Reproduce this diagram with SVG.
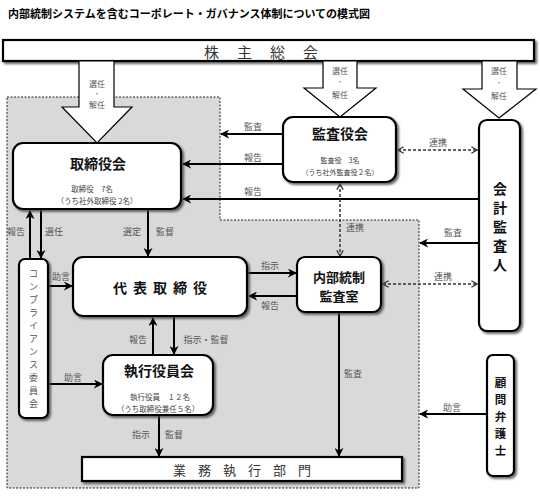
<svg xmlns="http://www.w3.org/2000/svg" width="540" height="496" viewBox="0 0 540 496">
<style>
text{font-family:"Noto Sans CJK JP","Noto Sans",sans-serif;dominant-baseline:central;text-anchor:middle}
.title{font-size:11px;font-weight:bold;text-anchor:start}
.lbl{font-size:9px;fill:#555}
.al{font-size:8px;fill:#555}
.dot{font-size:6px;fill:#555}
.big{font-size:14px;font-weight:bold;fill:#111}
.small{font-size:7.5px;fill:#444}
.bar{font-size:14px;fill:#333}
.box{fill:#fff;stroke:#000;stroke-width:2.2;filter:url(#sh)}
.ln{stroke:#000;stroke-width:2;fill:none}
.arr{marker-end:url(#ah)}
.dash{stroke:#333;stroke-width:1.5;stroke-dasharray:3 2;fill:none;marker-start:url(#oh);marker-end:url(#oh)}
.hollow{fill:#fff;stroke:#000;stroke-width:1.2}
</style>
<defs>
<filter id="sh" x="-10%" y="-10%" width="130%" height="130%">
<feDropShadow dx="2" dy="2" stdDeviation="1.2" flood-color="#444" flood-opacity="0.8"/>
</filter>
<marker id="ah" viewBox="0 0 10 10" refX="9" refY="5" markerWidth="9" markerHeight="9" markerUnits="userSpaceOnUse" orient="auto">
<path d="M0,0 L10,5 L0,10 L3,5 z" fill="#000"/>
</marker>
<marker id="oh" viewBox="0 0 10 10" refX="9" refY="5" markerWidth="8" markerHeight="8" markerUnits="userSpaceOnUse" orient="auto-start-reverse">
<path d="M2,1 L9,5 L2,9" fill="none" stroke="#333" stroke-width="1.6"/>
</marker>
</defs>
<rect width="540" height="496" fill="#fff"/>
<text class="title" x="8" y="13">内部統制システムを含むコーポレート・ガバナンス体制についての模式図</text>

<g id="region">
<path d="M7,97 H220 V220 H419 V488 H7 Z" fill="#d9d9d9" stroke="#222" stroke-width="1" stroke-dasharray="2 1.5"/>
</g>

<g id="shareholders">
<rect x="3" y="40" width="531" height="21" class="box"/>
<text class="bar" x="270" y="51" letter-spacing="18" style="font-size:15px">株主総会</text>
</g>

<g id="bigarrows">
<path class="hollow" d="M79,61 H114 V107 H132 L97,143 L62,107 H79 Z"/>
<text class="al" x="97" y="83">選任</text>
<text class="dot" x="97" y="93.5">・</text>
<text class="al" x="97" y="104">解任</text>
<path class="hollow" d="M323,61 H357 V88 H376 L340,117 L304,88 H323 Z"/>
<text class="al" x="340" y="70">選任</text>
<text class="dot" x="340" y="81.5">・</text>
<text class="al" x="340" y="94">解任</text>
<path class="hollow" d="M482,61 H517 V89 H536 L499,118 L463,89 H482 Z"/>
<text class="al" x="499" y="70">選任</text>
<text class="dot" x="499" y="82">・</text>
<text class="al" x="499" y="95">解任</text>
</g>

<g id="connectors">
<line class="ln arr" x1="283" y1="134" x2="221" y2="134"/>
<text class="lbl" x="253" y="126">監査</text>
<line class="ln arr" x1="283" y1="164" x2="183" y2="164"/>
<text class="lbl" x="253" y="157">報告</text>
<line class="ln arr" x1="479" y1="199" x2="183" y2="199"/>
<text class="lbl" x="253" y="191">報告</text>
<line class="dash" x1="398" y1="150" x2="477" y2="150"/>
<text class="lbl" x="438" y="142">連携</text>
<line class="dash" x1="340" y1="184" x2="340" y2="256"/>
<text class="lbl" x="355" y="227">連携</text>
<line class="ln arr" x1="479" y1="243" x2="420" y2="243"/>
<text class="lbl" x="453" y="232">監査</text>
<line class="dash" x1="383" y1="284" x2="477" y2="284"/>
<text class="lbl" x="443" y="276">連携</text>
<line class="ln arr" x1="30" y1="259" x2="30" y2="211"/>
<text class="lbl" x="16" y="231">報告</text>
<line class="ln arr" x1="41" y1="210" x2="41" y2="258"/>
<text class="lbl" x="54" y="231">選任</text>
<line class="ln arr" x1="148" y1="210" x2="148" y2="256"/>
<text class="lbl" x="132" y="231">選定</text>
<text class="lbl" x="165" y="231">監督</text>
<line class="ln arr" x1="49" y1="286" x2="72" y2="286"/>
<text class="lbl" x="61" y="276">助言</text>
<line class="ln arr" x1="248" y1="273" x2="296" y2="273"/>
<text class="lbl" x="270" y="265">指示</text>
<line class="ln arr" x1="297" y1="296" x2="249" y2="296"/>
<text class="lbl" x="270" y="305">報告</text>
<line class="ln arr" x1="153" y1="355" x2="153" y2="318"/>
<text class="lbl" x="138" y="339">報告</text>
<line class="ln arr" x1="174" y1="317" x2="174" y2="354"/>
<text class="lbl" x="206" y="339">指示・監督</text>
<line class="ln arr" x1="49" y1="384" x2="102" y2="384"/>
<text class="lbl" x="73" y="377">助言</text>
<line class="ln arr" x1="159" y1="416" x2="159" y2="456"/>
<text class="lbl" x="141" y="434">指示</text>
<text class="lbl" x="174" y="434">監督</text>
<line class="ln arr" x1="339" y1="313" x2="339" y2="456"/>
<text class="lbl" x="353" y="373">監査</text>
<line class="ln arr" x1="487" y1="414" x2="420" y2="414"/>
<text class="lbl" x="452" y="407">助言</text>
</g>

<g id="board">
<rect x="13" y="143" width="168" height="66" rx="10" class="box"/>
<text class="big" x="98" y="163">取締役会</text>
<text class="small" x="92" y="188">取締役　7名</text>
<text class="small" x="97" y="200">（うち社外取締役 2名）</text>
</g>

<g id="auditors">
<rect x="283" y="117" width="113" height="65" rx="10" class="box"/>
<text class="big" x="340" y="133">監査役会</text>
<text class="small" x="340" y="160" style="font-size:7px">監査役　3名</text>
<text class="small" x="340" y="171.5" style="font-size:7px">（うち社外監査役２名）</text>
</g>

<g id="accounting-auditor">
<rect x="479" y="120" width="41" height="211" rx="8" class="box"/>
<text class="big" x="500" y="188">会</text>
<text class="big" x="500" y="207">計</text>
<text class="big" x="500" y="226">監</text>
<text class="big" x="500" y="245">査</text>
<text class="big" x="500" y="264">人</text>
</g>

<g id="representative">
<rect x="73" y="257" width="174" height="59" rx="10" class="box"/>
<text class="big" x="163" y="287" letter-spacing="6">代表取締役</text>
</g>

<g id="internal-audit">
<rect x="297" y="257" width="84" height="55" rx="8" class="box"/>
<text class="big" x="339" y="276" style="font-size:13px">内部統制</text>
<text class="big" x="339" y="295" style="font-size:13px">監査室</text>
</g>

<g id="compliance">
<rect x="19" y="259" width="29" height="159" rx="6" class="box"/>
<text class="lbl" x="33.5" y="273">コ</text>
<text class="lbl" x="33.5" y="286">ン</text>
<text class="lbl" x="33.5" y="299">プ</text>
<text class="lbl" x="33.5" y="312">ラ</text>
<text class="lbl" x="33.5" y="325">イ</text>
<text class="lbl" x="33.5" y="338">ア</text>
<text class="lbl" x="33.5" y="351">ン</text>
<text class="lbl" x="33.5" y="364">ス</text>
<text class="lbl" x="33.5" y="377">委</text>
<text class="lbl" x="33.5" y="390">員</text>
<text class="lbl" x="33.5" y="403">会</text>
</g>

<g id="executive">
<rect x="103" y="355" width="110" height="60" rx="10" class="box"/>
<text class="big" x="159" y="370">執行役員会</text>
<text class="small" x="160" y="396">執行役員　１２名</text>
<text class="small" x="158" y="408">（うち取締役兼任５名）</text>
</g>

<g id="counsel">
<rect x="487" y="355" width="27" height="121" rx="6" class="box"/>
<text class="big" x="500.5" y="382" style="font-size:11.5px">顧</text>
<text class="big" x="500.5" y="399" style="font-size:11.5px">問</text>
<text class="big" x="500.5" y="416" style="font-size:11.5px">弁</text>
<text class="big" x="500.5" y="433" style="font-size:11.5px">護</text>
<text class="big" x="500.5" y="450" style="font-size:11.5px">士</text>
</g>

<g id="operations">
<rect x="82" y="457" width="320" height="24" class="box"/>
<text class="bar" x="248" y="469" letter-spacing="12" style="font-size:13px">業務執行部門</text>
</g>
</svg>
